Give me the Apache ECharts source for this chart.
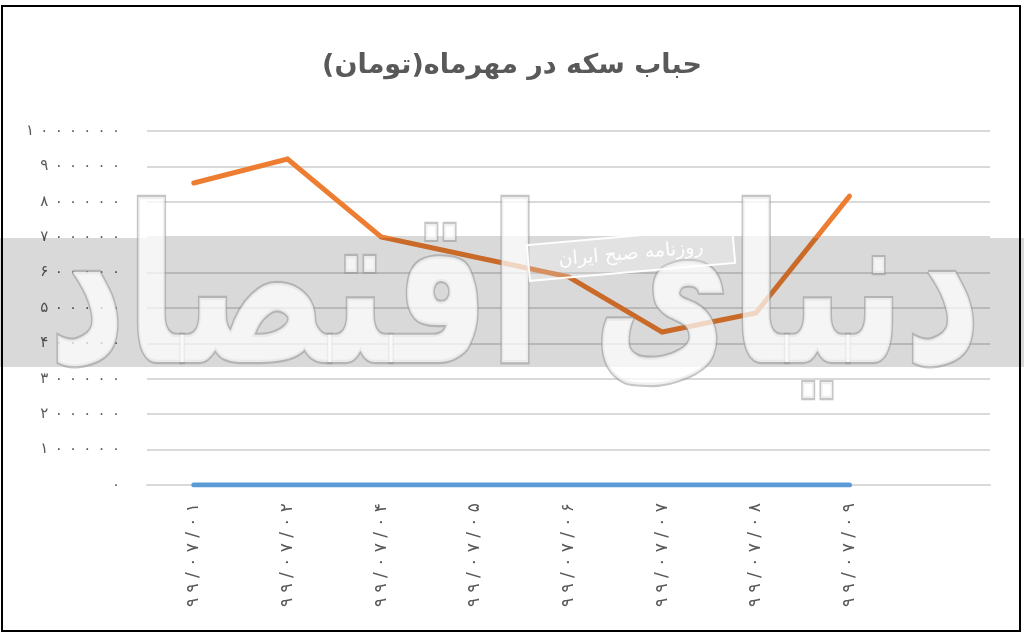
<!DOCTYPE html>
<html>
<head>
<meta charset="utf-8">
<script src="https://cdn.jsdelivr.net/npm/echarts@6/dist/echarts.min.js"></script>
<style>
html,body{margin:0;padding:0;background:#fff;}
#c{width:1024px;height:633px;}
</style>
</head>
<body>
<div id="c"></div>
<script>
const titleText = 'حباب سکه در مهرماه(تومان)';
const categories = ['۹۹/۰۷/۰۱','۹۹/۰۷/۰۲','۹۹/۰۷/۰۴','۹۹/۰۷/۰۵','۹۹/۰۷/۰۶','۹۹/۰۷/۰۷','۹۹/۰۷/۰۸','۹۹/۰۷/۰۹',''];
const bubbleValues = [853000, 921000, 701000, 644000, 588000, 432000, 486000, 816000, null];
const baseValues = [0, 0, 0, 0, 0, 0, 0, 0, null];
const watermarkBig = 'دنیای اقتصاد';
const watermarkSmall = 'روزنامه صبح ایران';

const fa = s => String(s).replace(/[0-9]/g, d => '۰۱۲۳۴۵۶۷۸۹'[+d]);
const FONT = 'DejaVu Sans';

const chart = echarts.init(document.getElementById('c'));
chart.setOption({
  backgroundColor: '#fff',
  animation: false,
  title: {
    text: titleText, left: 'center', top: 47,
    textStyle: {fontFamily: FONT, fontSize: 27, fontWeight: 'bold', color: '#595959'}
  },
  grid: {left: 147, right: 34, top: 131, bottom: 148},
  xAxis: {
    type: 'category', data: categories, boundaryGap: true,
    axisLine: {show: true, lineStyle: {color: '#d9d9d9', width: 2}},
    axisTick: {show: false},
    axisLabel: {rotate: 90, margin: 18, fontFamily: FONT, fontSize: 17, color: '#595959', interval: 0,
      formatter: v => v.split('').join(' ')}
  },
  yAxis: {
    type: 'value', min: 0, max: 1000000, interval: 100000,
    axisLine: {show: false}, axisTick: {show: false},
    splitLine: {lineStyle: {color: '#d9d9d9', width: 2}},
    axisLabel: {
      margin: 27, fontFamily: FONT, fontSize: 15, color: '#595959',
      formatter: v => fa(v).split('').join(' \u200A')
    }
  },
  series: [
    {type: 'line', data: baseValues, symbol: 'none', z: 3,
     lineStyle: {color: '#5b9bd5', width: 5, cap: 'round'}},
    {type: 'line', data: bubbleValues, symbol: 'none', z: 4,
     lineStyle: {color: '#ed7d31', width: 5, cap: 'round', join: 'miter'}}
  ],
  graphic: [
    {type: 'rect', left: 0, top: 238, shape: {width: 1024, height: 129}, z: 100,
     style: {fill: 'rgba(0,0,0,0.15)'}, silent: true},
    {type: 'text', x: 515, y: 305, scaleY: 1.45, z: 101, silent: true,
     style: {text: watermarkBig, font: 'bold 150px ' + FONT, align: 'center', verticalAlign: 'middle',
             fill: 'rgba(255,255,255,0.72)', stroke: 'rgba(150,150,150,0.55)', lineWidth: 3}},
    {type: 'rect', x: 631, y: 254, rotation: 5 * Math.PI / 180, z: 102, silent: true,
     shape: {x: -103, y: -18, width: 206, height: 36},
     style: {fill: 'rgba(255,255,255,0.25)', stroke: 'rgba(255,255,255,0.95)', lineWidth: 2}},
    {type: 'text', x: 631, y: 254, rotation: 5 * Math.PI / 180, z: 103, silent: true,
     style: {text: watermarkSmall, font: '19px ' + FONT, align: 'center', verticalAlign: 'middle', fill: 'rgba(255,255,255,0.95)'}},
    {type: 'rect', shape: {x: 2, y: 6, width: 1018, height: 625}, z: 110, silent: true,
     style: {fill: 'none', stroke: '#000', lineWidth: 2}}
  ]
});
</script>
</body>
</html>
